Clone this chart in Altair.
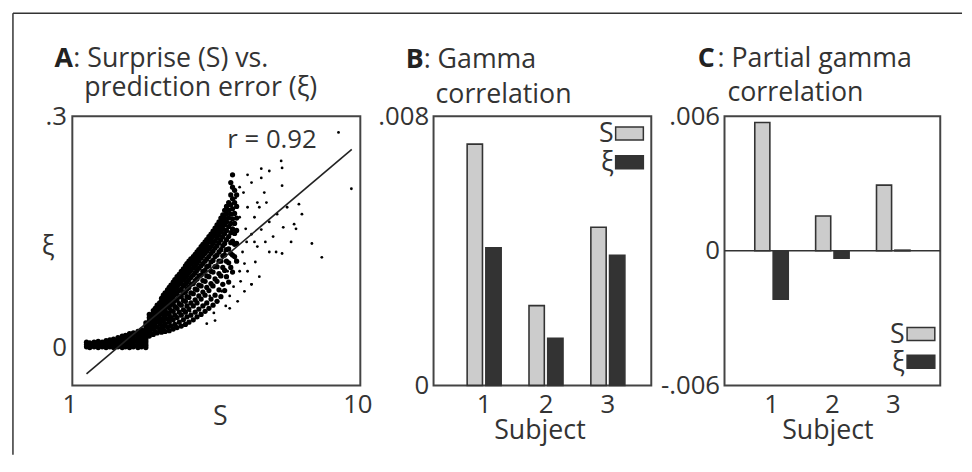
import altair as alt
import pandas as pd

FONT = "Open Sans"
INK = "#333333"
FRAME = "#444444"
LIGHT = "#cccccc"
DARK = "#333333"
RECT = "M-1,-0.47H1V0.47H-1Z"

# ---------------- Panel A : Surprise (S) vs prediction error (xi) ----------------
# dense horizontal band near xi = 0 (columns of S, values of xi)
BAND_S = [1.12, 1.15, 1.19, 1.23, 1.27, 1.31, 1.35, 1.39, 1.44, 1.49, 1.53, 1.58, 1.63, 1.69, 1.74, 1.80]
BAND_XI = [
    [0.001, 0.004, 0.007],
    [0.000, 0.003, 0.006],
    [0.001, 0.004, 0.007],
    [0.000, 0.003, 0.006, 0.008],
    [0.001, 0.004, 0.007],
    [0.000, 0.003, 0.006, 0.009],
    [0.001, 0.004, 0.007, 0.010],
    [0.000, 0.003, 0.006, 0.009, 0.011],
    [0.001, 0.004, 0.007, 0.010, 0.013],
    [0.000, 0.003, 0.006, 0.009, 0.012, 0.015],
    [0.001, 0.004, 0.007, 0.010, 0.013, 0.016],
    [0.000, 0.003, 0.006, 0.009, 0.012, 0.015, 0.018],
    [0.001, 0.004, 0.007, 0.010, 0.013, 0.016, 0.019],
    [0.000, 0.003, 0.006, 0.009, 0.012, 0.015, 0.018, 0.021],
    [0.001, 0.004, 0.007, 0.010, 0.013, 0.016, 0.019, 0.023],
    [0.000, 0.003, 0.006, 0.009, 0.012, 0.016, 0.020, 0.024, 0.028, 0.032],
]
# rising dense cluster
CLUSTER_S = [1.85, 1.88, 1.91, 1.94, 1.97, 2.01, 2.04, 2.07, 2.10, 2.14, 2.17, 2.20, 2.24, 2.27,
             2.31, 2.35, 2.39, 2.43, 2.47, 2.50, 2.54, 2.58, 2.63, 2.67, 2.71, 2.75, 2.80, 2.84,
             2.89, 2.93, 2.98, 3.03, 3.08, 3.13, 3.18, 3.23, 3.28, 3.33, 3.38, 3.43, 3.49, 3.55,
             3.60, 3.66, 3.72]
CLUSTER_XI = [
    [0.015, 0.021, 0.026, 0.031, 0.035, 0.039, 0.043],
    [0.018, 0.024, 0.029, 0.034, 0.038, 0.042],
    [0.017, 0.024, 0.030, 0.035, 0.040, 0.044, 0.048],
    [0.021, 0.028, 0.033, 0.038, 0.043, 0.047, 0.051],
    [0.019, 0.027, 0.034, 0.040, 0.045, 0.050, 0.055],
    [0.024, 0.032, 0.038, 0.043, 0.048, 0.053, 0.058],
    [0.020, 0.029, 0.037, 0.044, 0.050, 0.055, 0.060, 0.064],
    [0.026, 0.035, 0.043, 0.049, 0.054, 0.059, 0.064, 0.068],
    [0.021, 0.031, 0.040, 0.048, 0.055, 0.061, 0.066, 0.071],
    [0.027, 0.037, 0.045, 0.053, 0.059, 0.064, 0.070, 0.075],
    [0.022, 0.033, 0.043, 0.052, 0.060, 0.067, 0.073, 0.078],
    [0.028, 0.039, 0.048, 0.056, 0.063, 0.070, 0.076, 0.081],
    [0.024, 0.036, 0.047, 0.057, 0.066, 0.073, 0.079, 0.085],
    [0.030, 0.042, 0.053, 0.061, 0.069, 0.076, 0.082, 0.088],
    [0.026, 0.039, 0.051, 0.062, 0.071, 0.079, 0.086, 0.092],
    [0.033, 0.046, 0.057, 0.066, 0.074, 0.082, 0.089, 0.095],
    [0.028, 0.042, 0.055, 0.066, 0.076, 0.085, 0.092, 0.099],
    [0.036, 0.049, 0.061, 0.071, 0.080, 0.088, 0.095, 0.102],
    [0.030, 0.046, 0.060, 0.072, 0.082, 0.091, 0.099, 0.106],
    [0.040, 0.054, 0.066, 0.076, 0.085, 0.094, 0.102, 0.109],
    [0.033, 0.050, 0.065, 0.078, 0.088, 0.097, 0.105, 0.112],
    [0.042, 0.058, 0.071, 0.082, 0.091, 0.100, 0.108, 0.115],
    [0.036, 0.054, 0.070, 0.083, 0.094, 0.103, 0.111, 0.118],
    [0.046, 0.062, 0.076, 0.087, 0.097, 0.106, 0.114, 0.121],
    [0.040, 0.058, 0.075, 0.089, 0.100, 0.109, 0.117, 0.124],
    [0.050, 0.067, 0.081, 0.093, 0.103, 0.112, 0.120, 0.127],
    [0.043, 0.063, 0.080, 0.094, 0.106, 0.116, 0.124, 0.131],
    [0.054, 0.072, 0.087, 0.099, 0.109, 0.119, 0.127, 0.134],
    [0.047, 0.068, 0.086, 0.100, 0.112, 0.122, 0.130, 0.137],
    [0.058, 0.078, 0.093, 0.105, 0.115, 0.125, 0.133, 0.140],
    [0.051, 0.074, 0.092, 0.106, 0.118, 0.128, 0.137, 0.144],
    [0.063, 0.083, 0.099, 0.111, 0.122, 0.131, 0.140, 0.147],
    [0.055, 0.080, 0.098, 0.113, 0.125, 0.135, 0.144, 0.151],
    [0.068, 0.089, 0.105, 0.118, 0.129, 0.138, 0.147, 0.155],
    [0.060, 0.086, 0.105, 0.120, 0.132, 0.142, 0.151, 0.159],
    [0.075, 0.096, 0.112, 0.124, 0.136, 0.146, 0.155, 0.163],
    [0.066, 0.093, 0.112, 0.127, 0.140, 0.150, 0.159, 0.168],
    [0.082, 0.104, 0.119, 0.132, 0.144, 0.154, 0.163, 0.172],
    [0.074, 0.100, 0.120, 0.135, 0.148, 0.159, 0.168, 0.178],
    [0.092, 0.112, 0.127, 0.140, 0.152, 0.163, 0.173, 0.183],
    [0.085, 0.110, 0.128, 0.144, 0.157, 0.168, 0.178, 0.188],
    [0.104, 0.122, 0.136, 0.149, 0.161, 0.173, 0.185, 0.198, 0.214],
    [0.098, 0.120, 0.138, 0.154, 0.167, 0.180, 0.193, 0.208, 0.224],
    [0.118, 0.134, 0.148, 0.161, 0.174, 0.188, 0.204],
    [0.112, 0.135, 0.152, 0.168, 0.183, 0.198],
]
# scattered points
SPARSE_S = [2.43, 2.56, 2.69, 2.78, 2.89, 3.00, 3.10, 3.20, 3.30, 3.41, 3.52, 3.63, 3.75, 3.84,
            3.96, 4.06, 4.19, 4.32, 4.46, 3.46, 3.69, 3.90, 4.03, 4.19, 4.39, 4.53, 4.68, 4.83,
            4.29, 4.06, 4.39, 4.64, 3.93, 4.19, 4.53, 4.83, 4.06, 3.81, 3.69, 4.98, 5.14, 5.40,
            5.57, 5.75, 5.89, 6.12, 6.27, 5.35, 5.31, 5.35, 4.53, 4.83, 5.10, 5.35, 5.98, 6.79,
            7.35, 9.31, 8.40, 4.19, 3.52, 3.13, 2.93, 3.81, 3.96, 3.57, 3.25, 3.05, 3.38, 4.29,
            4.46, 4.72, 4.00, 3.81]
SPARSE_XI = [0.037, 0.047, 0.060, 0.045, 0.056, 0.067, 0.045, 0.060, 0.073, 0.054, 0.067, 0.079,
             0.060, 0.086, 0.073, 0.099, 0.082, 0.111, 0.092, 0.099, 0.114, 0.124, 0.137, 0.147,
             0.131, 0.153, 0.137, 0.163, 0.169, 0.182, 0.188, 0.201, 0.201, 0.214, 0.220, 0.229,
             0.224, 0.208, 0.194, 0.144, 0.173, 0.156, 0.182, 0.137, 0.160, 0.186, 0.173, 0.210,
             0.242, 0.233, 0.232, 0.124, 0.124, 0.122, 0.154, 0.135, 0.117, 0.206, 0.279, 0.082,
             0.051, 0.035, 0.031, 0.099, 0.109, 0.105, 0.092, 0.079, 0.124, 0.137, 0.182, 0.188,
             0.154, 0.169]
FIT_S = [1.12, 9.34]
FIT_XI = [-0.034, 0.257]
R_TEXT = "r = 0.92"
A_XTICKS = [1, 10]
A_YTICKS = [0, 0.3]
A_XDOMAIN = [1, 10]
A_YDOMAIN = [-0.049, 0.3]

# ---------------- Panels B and C ----------------
SUBJECTS = [1, 2, 3]
SERIES = ["S", "ξ"]
B_S = [0.00717, 0.00237, 0.00470]
B_XI = [0.00409, 0.00140, 0.00387]
C_S = [0.00572, 0.00155, 0.00293]
C_XI = [-0.00216, -0.00033, 0.00003]
B_YTICKS = [0, 0.008]
C_YTICKS = [-0.006, 0, 0.006]
B_YDOMAIN = [0, 0.008]
C_YDOMAIN = [-0.006, 0.006]

# ---------------- tables ----------------
core_s, core_xi = [], []
for s, col in zip(BAND_S + CLUSTER_S, BAND_XI + CLUSTER_XI):
    for v in col:
        core_s.append(s)
        core_xi.append(v)
core_df = pd.DataFrame({"S": core_s, "xi": core_xi})
sparse_df = pd.DataFrame({"S": SPARSE_S, "xi": SPARSE_XI})
fit_df = pd.DataFrame({"S": FIT_S, "xi": FIT_XI})


def bars_df(s_vals, xi_vals):
    rows = []
    for i, sub in enumerate(SUBJECTS):
        rows.append({"Subject": sub, "series": SERIES[0], "value": s_vals[i]})
        rows.append({"Subject": sub, "series": SERIES[1], "value": xi_vals[i]})
    return pd.DataFrame(rows)


b_df = bars_df(B_S, B_XI)
c_df = bars_df(C_S, C_XI)
ONE = pd.DataFrame({"k": [0]})

AX = dict(grid=False, ticks=False, tickSize=0, domain=False,
          labelFont=FONT, labelFontSize=26, labelColor=INK,
          titleFont=FONT, titleFontSize=27, titleFontWeight="normal", titleColor=INK)


def tick_expr(dec):
    return ("datum.value == 0 ? '0' : replace(replace(format(datum.value, '.%df'), '0.', '.'), '\u2212', '-')" % dec)


def txt(text, x, y, size=27, bold=False, align="left", baseline="alphabetic"):
    return alt.Chart(ONE).mark_text(
        text=text, font=FONT, fontSize=size, color=INK if not bold else "#222222",
        fontWeight="bold" if bold else "normal", align=align, baseline=baseline
    ).encode(x=alt.value(x), y=alt.value(y))


def legend_marks(x_box, x_label, y_first, pitch):
    out = []
    for i, (name, fill) in enumerate(zip(SERIES, [LIGHT, DARK])):
        y = y_first + i * pitch
        out.append(alt.Chart(ONE).mark_point(
            shape=RECT, size=784, filled=True, fill=fill, stroke=DARK, strokeWidth=1.5, opacity=1
        ).encode(x=alt.value(x_box), y=alt.value(y)))
        out.append(txt(name, x_label, y + 1, baseline="middle", align="right"))
    return out


# ---------------- Panel A ----------------
xs = alt.Scale(type="log", domain=A_XDOMAIN, nice=False)
ys = alt.Scale(domain=A_YDOMAIN, nice=False, zero=False)
xa = alt.Axis(values=A_XTICKS, format=".0f", labelFlush=False, labelOffset=-3,
              labelBaseline="alphabetic", labelPadding=27, labelOverlap=False,
              title="S", titleX=149, titleY=40, titleBaseline="alphabetic", titleAlign="center", **AX)
ya = alt.Axis(values=A_YTICKS, labelExpr=tick_expr(1), labelPadding=6,
              title="ξ", titleAngle=0, titleX=-25, titleY=132, titleAlign="center",
              titleBaseline="middle", **AX)
XA = alt.X("S:Q", scale=xs, axis=xa)
YA = alt.Y("xi:Q", scale=ys, axis=ya)

core = alt.Chart(core_df).mark_circle(size=28, color="black", opacity=1).encode(x=XA, y=YA)
sparse = alt.Chart(sparse_df).mark_circle(size=8, color="black", opacity=1).encode(x=XA, y=YA)
fit = alt.Chart(fit_df).mark_line(color="#222222", strokeWidth=1.6).encode(x=XA, y=YA)

border_top = alt.Chart(ONE).mark_rule(color="#333333", strokeWidth=1.5).encode(
    x=alt.value(-60), x2=alt.value(899), y=alt.value(-104))
border_left = alt.Chart(ONE).mark_rule(color="#333333", strokeWidth=1.5).encode(
    x=alt.value(-60), y=alt.value(-104), y2=alt.value(342))

panel_a = alt.layer(
    core, sparse, fit,
    txt(R_TEXT, 247, 32, size=26, align="right"),
    txt("A", -18, -50, bold=True),
    txt(": Surprise (S) vs.", 1, -50),
    txt("prediction error (ξ)", 12, -20),
    border_top, border_left,
).properties(width=291, height=272)


# ---------------- Panels B / C ----------------
def bar_panel(df, ydomain, yticks, dec, pad_outer, align, title_x):
    x = alt.X("Subject:O",
              scale=alt.Scale(paddingInner=0.45, paddingOuter=pad_outer, align=align),
              axis=alt.Axis(labelAngle=0, labelBaseline="alphabetic", labelPadding=27,
                            title="Subject", titleX=title_x, titleY=54,
                            titleBaseline="alphabetic", titleAlign="center", **AX))
    y = alt.Y("value:Q", scale=alt.Scale(domain=ydomain, nice=False),
              axis=alt.Axis(values=yticks, labelExpr=tick_expr(dec), labelPadding=5,
                            title=None, **AX))
    fill = alt.Fill("series:N", scale=alt.Scale(domain=SERIES, range=[LIGHT, DARK]), legend=None)
    return alt.Chart(df).mark_bar(stroke=DARK, strokeWidth=1.6, strokeOpacity=1, opacity=1).encode(
        x=x, y=y, fill=fill,
        xOffset=alt.XOffset("series:N", sort=SERIES, scale=alt.Scale(paddingInner=0.18, paddingOuter=0)),
    )


b_bars = bar_panel(b_df, B_YDOMAIN, B_YTICKS, 3, 0.485, 0.56, 107)
panel_b = alt.layer(
    b_bars,
    *legend_marks(198, 182, 17.5, 29),
    txt("B", -28, -49, bold=True),
    txt(": Gamma", -10, -49),
    txt("correlation", 2, -13),
).properties(width=220, height=272)

c_bars = bar_panel(c_df, C_YDOMAIN, C_YTICKS, 3, 0.4975, 0.5, 104)
zero_rule = alt.Chart(ONE).mark_rule(color=DARK, strokeWidth=1.5).encode(y=alt.datum(0))
panel_c = alt.layer(
    c_bars, zero_rule,
    *legend_marks(198.5, 182, 220, 28),
    txt("C", -27, -50, bold=True),
    txt(": Partial gamma", -7, -50),
    txt("correlation", 3, -15),
).properties(width=218, height=272)

chart = alt.hconcat(panel_a, panel_b, panel_c, spacing=74, bounds="flush").resolve_scale(
    fill="independent", x="independent", y="independent", xOffset="independent"
).properties(
    padding={"left": 3, "top": 1, "right": 0, "bottom": 0},
    background="white",
).configure_view(stroke=FRAME, strokeWidth=2)

chart.save("out.html", embed_options={"renderer": "svg", "actions": False})
